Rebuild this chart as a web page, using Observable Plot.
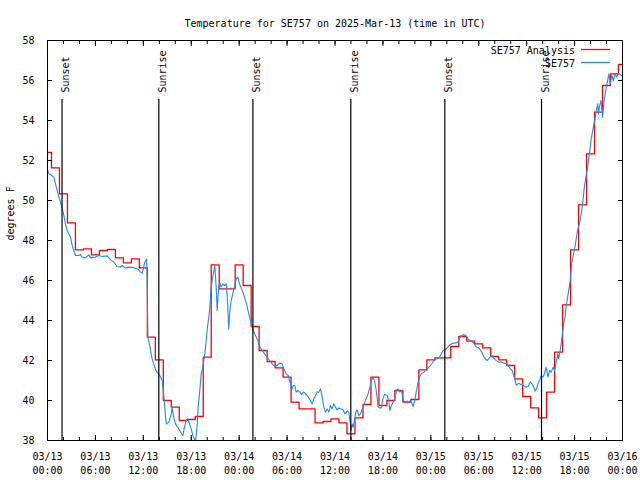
<!DOCTYPE html>
<html><head><meta charset="utf-8">
<script src="https://cdn.jsdelivr.net/npm/d3@7"></script>
<script src="https://cdn.jsdelivr.net/npm/@observablehq/plot@0.6"></script>
<style>body{margin:0;background:#fff} svg{display:block}</style>
</head><body><div id="chart"></div>
<script>
const titleText = "Temperature for SE757 on 2025-Mar-13 (time in UTC)";
const yLabel = "degrees F";
const startISO = "2025-03-13T00:00:00Z";
const endISO = "2025-03-16T00:00:00Z";
const seriesNames = ["SE757 Analysis", "SE757"];

// Hourly analysis values, hour 0 .. 72 from start
const analysisTemps = [52.41,51.63,50.33,48.88,47.53,47.58,47.28,47.5,47.55,47.13,46.88,47.08,46.63,
  43.17,42.03,40.0,39.67,39.0,39.05,39.2,42.17,46.78,45.58,45.58,
  46.78,45.75,43.7,42.5,41.95,41.63,41.17,39.92,39.58,39.58,38.88,38.95,39.08,38.88,38.33,39.13,39.8,41.17,39.75,40.0,
  40.5,39.92,40.05,41.53,42.03,42.13,42.13,42.7,43.2,42.97,42.83,42.63,42.2,42.03,41.75,41.08,40.2,39.63,39.13,40.42,42.42,
  44.78,47.53,49.78,52.33,54.42,55.75,56.33,56.8];

// Observations: hours from start, temperature
const obsHours = [0,0.2,0.5,0.79,1,1.21,1.38,1.63,1.84,2.05,2.25,2.46,2.67,2.88,3.09,3.3,3.5,3.92,4.13,4.3,4.76,5.18,5.4,6,6.43,6.85,7.47,7.9,8.3,8.7,9.14,9.35,9.77,10.2,10.8,11.4,11.65,11.86,12,12.15,12.4,12.48,12.57,12.77,12.9,13.1,13.3,13.5,13.7,14.06,14.36,14.48,14.65,14.78,14.9,15.2,15.5,15.6,15.8,16.03,16.3,16.65,16.95,17.15,17.37,17.57,17.78,18,18.2,18.4,18.53,18.75,18.87,19.07,19.24,19.45,19.7,19.87,20.03,20.2,20.33,20.45,20.62,20.83,20.95,21.12,21.25,21.37,21.54,21.75,21.95,22.2,22.4,22.57,22.7,22.83,23,23.2,23.4,23.63,23.83,24.04,24.38,24.67,24.92,25.2,25.42,25.63,25.84,26.05,26.34,26.6,26.9,27.18,27.5,27.8,28.14,28.47,28.76,29.05,29.38,29.6,29.9,30.14,30.43,30.55,30.77,30.97,31.14,31.34,31.6,31.8,32.1,32.4,32.65,32.93,33.14,33.35,33.56,33.77,33.98,34.19,34.4,34.6,34.82,35.02,35.23,35.44,35.65,35.85,36.06,36.27,36.48,36.78,37.03,37.24,37.53,37.73,37.86,38.03,38.15,38.28,38.44,38.6,38.78,38.99,39.2,39.4,39.6,39.8,40,40.2,40.42,40.58,40.7,40.94,41.1,41.27,41.4,41.6,41.82,41.98,42.2,42.53,42.74,42.86,43.07,43.28,43.49,43.7,43.9,44.11,44.33,44.54,44.75,45.04,45.25,45.45,45.66,45.78,45.99,46.2,46.37,46.58,46.8,47.13,47.47,47.76,48.06,48.39,48.7,49.03,49.3,49.55,49.84,50.13,50.46,50.8,51.09,51.38,51.63,51.84,52.13,52.38,52.63,52.88,53.17,53.46,53.71,54,54.2,54.42,54.62,54.83,55.04,55.25,55.46,55.67,55.88,56.09,56.3,56.5,56.8,57.13,57.47,57.76,57.97,58.18,58.38,58.56,58.72,58.88,59.05,59.21,59.46,59.71,59.96,60.2,60.45,60.67,60.88,61.05,61.22,61.43,61.63,61.84,62.05,62.22,62.43,62.55,62.67,62.87,63.08,63.32,63.5,63.7,63.9,64,64.2,64.38,64.5,64.63,64.8,64.96,65.13,65.33,65.46,65.63,65.84,66.05,66.2,66.37,66.6,66.72,66.9,67.1,67.22,67.43,67.64,67.85,68.06,68.27,68.48,68.69,68.9,69,69.1,69.31,69.4,69.5,69.7,69.9,70.1,70.3,70.45,70.66,70.86,71.07,71.28,71.5,71.7,71.9,72];
const obsTemps = [51.53,51.33,51.25,51.17,50.83,50.5,50.25,49.92,49.58,49.25,48.83,48.5,48.33,48.17,47.75,47.5,47.25,47.25,47.3,47.17,47.13,47.28,47.13,47.17,47.25,47.2,47.23,47.03,46.92,46.7,46.67,46.75,46.62,46.67,46.65,46.55,46.42,46.37,46.6,46.87,47.08,46.0,43.17,42.83,42.5,42.08,41.83,41.58,41.42,41.25,41.0,40.58,39.83,39.17,38.83,38.92,39.33,39.67,39.17,38.83,38.67,38.42,38.25,38.67,39.0,39.08,38.83,38.58,38.25,38.08,37.92,38.83,39.67,40.5,41.33,41.67,42.33,43.0,43.67,44.17,44.67,45.5,46.0,46.5,46.75,45.67,44.5,45.33,45.92,45.67,45.83,45.75,45.83,44.67,43.58,44.5,45.0,45.33,45.67,46.08,46.17,45.83,45.5,45.17,44.83,44.33,44.0,43.67,43.42,43.25,43.0,42.67,42.5,42.33,42.17,42.0,41.83,41.7,41.75,41.87,41.83,41.58,41.33,41.25,40.83,40.5,40.75,40.75,40.42,40.5,40.42,40.3,40.42,40.3,40.17,40.0,39.83,40.08,40.25,40.42,40.42,40.58,40.17,39.67,39.42,39.58,39.42,39.75,39.58,39.83,39.67,39.53,39.63,39.58,39.53,39.33,39.47,39.42,39.0,38.5,38.83,38.67,39.0,39.42,39.53,39.25,39.33,39.58,39.75,40.0,40.17,40.42,40.75,41.0,41.17,41.0,40.67,40.17,39.67,39.63,39.63,40.08,40.3,40.25,40.0,39.5,39.75,39.92,40.08,40.5,40.58,40.42,40.5,40.0,39.92,39.97,39.92,40.0,39.83,39.7,40.0,40.5,40.83,41.17,41.33,41.42,41.53,41.67,41.8,42.0,42.08,42.13,42.33,42.5,42.55,42.67,42.8,42.87,42.87,42.92,43.13,43.25,43.28,43.25,43.08,43.0,42.97,42.8,42.67,42.63,42.53,42.37,42.2,42.08,42.0,42.08,42.2,42.25,42.13,42.03,41.97,41.92,41.92,41.87,41.83,41.7,41.58,41.5,41.25,41.0,40.75,40.83,40.87,40.8,40.83,40.7,40.67,40.7,40.92,40.83,40.67,40.47,40.58,40.83,41.03,41.25,41.17,41.33,41.67,41.42,41.17,41.5,41.42,41.67,41.5,41.92,42.33,42.08,42.5,43.0,43.42,43.83,44.17,44.75,45.17,45.67,46.0,46.83,47.25,47.67,48.08,48.5,48.83,49.08,49.5,50.17,50.67,51.17,51.67,52.33,53.0,53.5,53.92,54.42,54.83,54.33,54.67,55.0,54.58,54.17,55.0,55.5,55.92,56.33,55.83,56.25,56.0,56.33,56.17,56.37,56.3,56.25,56.2];

const sunLabels = ["Sunset","Sunrise","Sunset","Sunrise","Sunset","Sunrise"];
const sunHours = [1.82,13.94,25.72,37.98,49.75,61.86];
const yTicks = [38,40,42,44,46,48,50,52,54,56,58];

// ---- build tables ----
const t0 = new Date(startISO), t1 = new Date(endISO);
const atHour = h => new Date(+t0 + h * 3600e3);
const analysis = analysisTemps.map((v, i) => ({date: atHour(i), temp: v}));
const obs = obsHours.map((h, i) => ({date: atHour(h), temp: obsTemps[i]}));
const sun = sunHours.map((h, i) => ({date: atHour(h), label: sunLabels[i]}));
const majorTicks = d3.utcHour.every(6).range(t0, new Date(+t1 + 1));
const minorTicks = d3.utcHour.every(2).range(t0, new Date(+t1 + 1));
const fmt = d3.utcFormat("%m/%d\n%H:%M");
const colors = ["#ff0000", "#1a8cff"];
const FONT = "DejaVu Sans Mono";

const chart = Plot.plot({
  width: 640, height: 480,
  marginLeft: 47, marginRight: 18, marginTop: 40, marginBottom: 40,
  style: {fontFamily: FONT, fontSize: "10px", background: "#fff", color: "#000"},
  x: {type: "utc", domain: [t0, t1]},
  y: {domain: [38, 58]},
  marks: [
    Plot.line(analysis, {x: "date", y: "temp", curve: "step", stroke: colors[0], strokeWidth: 1.3, clip: true}),
    Plot.line(obs, {x: "date", y: "temp", stroke: colors[1], strokeWidth: 1.1, clip: true}),
    Plot.ruleX(sun, {x: "date", stroke: "#000", strokeWidth: 1.2, insetTop: 59}),
    Plot.text(sun, {x: "date", text: "label", frameAnchor: "top", dy: 52, rotate: -90, textAnchor: "start", fill: "#000"}),
    Plot.frame({stroke: "#000"}),
    // inward ticks
    Plot.axisX({ticks: majorTicks, tickSize: -5, fill: "none", label: null}),
    Plot.axisX({ticks: minorTicks, tickSize: -3, fill: "none", label: null}),
    Plot.axisX({anchor: "top", ticks: majorTicks, tickSize: -5, fill: "none", label: null}),
    Plot.axisX({anchor: "top", ticks: minorTicks, tickSize: -3, fill: "none", label: null}),
    Plot.axisY({ticks: yTicks, tickSize: -5, fill: "none", label: null}),
    Plot.axisY({anchor: "right", ticks: yTicks, tickSize: -5, fill: "none", label: null}),
    // labels
    Plot.axisX({ticks: majorTicks, tickSize: 0, tickPadding: 10, tickFormat: fmt, lineHeight: 1.4, label: null}),
    Plot.axisY({ticks: yTicks, tickSize: 0, tickPadding: 13, label: null}),
    Plot.text([yLabel], {text: d => d, frameAnchor: "left", dx: -37, rotate: -90}),
    Plot.text([titleText], {text: d => d, frameAnchor: "top", dy: -21})
  ]
});
document.getElementById("chart").appendChild(chart);

// legend (top-right, inside the frame)
const svg = d3.select(chart);
const lg = svg.append("g").attr("font-family", FONT).attr("font-size", 10);
seriesNames.forEach((name, i) => {
  const yy = 50 + i * 13;
  lg.append("text").attr("x", 575).attr("y", yy).attr("dy", "0.35em").attr("text-anchor", "end").attr("fill", "#000").text(name);
  lg.append("line").attr("x1", 581).attr("x2", 610).attr("y1", yy - 0.5).attr("y2", yy - 0.5)
    .attr("stroke", colors[i]).attr("stroke-width", 1.3);
});
</script></body></html>
